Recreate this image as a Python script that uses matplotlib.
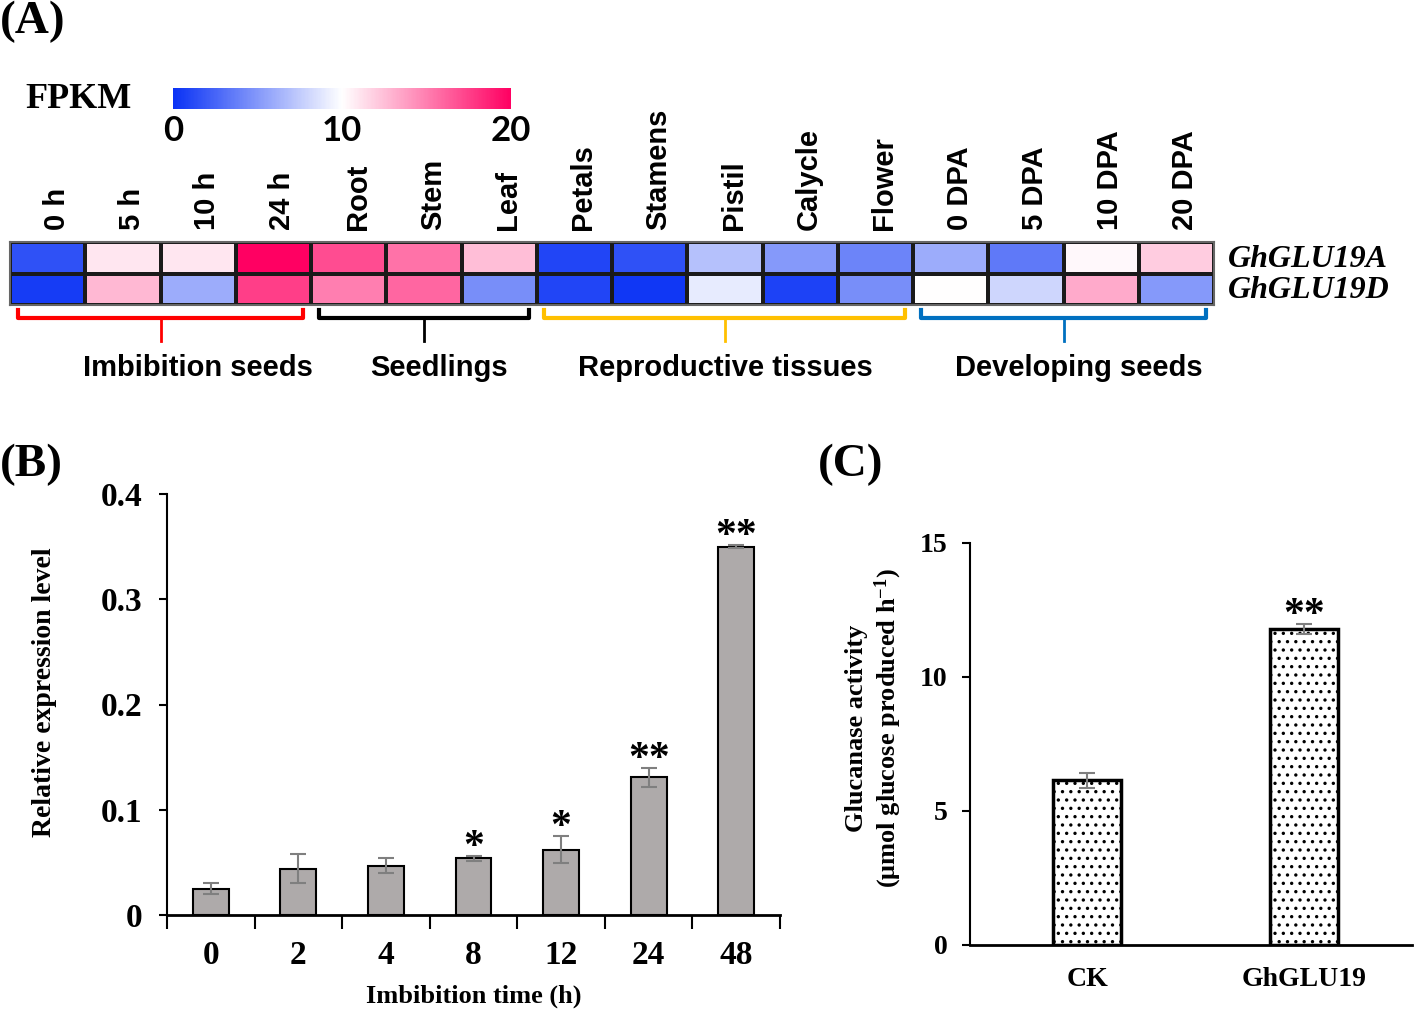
import numpy as np
import matplotlib
matplotlib.use("Agg")
import matplotlib.pyplot as plt
from matplotlib.colors import LinearSegmentedColormap

W, H = 1416, 1015

# (A) FPKM heatmap
samples = ["0 h", "5 h", "10 h", "24 h", "Root", "Stem", "Leaf", "Petals",
           "Stamens", "Pistil", "Calycle", "Flower", "0 DPA", "5 DPA",
           "10 DPA", "20 DPA"]
genes = ["GhGLU19A", "GhGLU19D"]
fpkm_a = [1.5, 11.0, 11.0, 20.0, 17.0, 15.5, 12.5, 1.0,
          1.5, 7.0, 5.0, 4.0, 6.0, 3.5, 10.3, 12.0]
fpkm_d = [0.5, 12.8, 6.0, 17.5, 15.0, 16.0, 4.5, 1.0,
          0.3, 9.0, 0.8, 4.5, 10.0, 8.0, 13.3, 5.0]
groups = ["Imbibition seeds", "Seedlings", "Reproductive tissues", "Developing seeds"]
group_start = [0, 4, 7, 12]
group_end = [3, 6, 11, 15]
group_colors = ["#FF0000", "#000000", "#FFC000", "#0070C0"]

# (B) qRT-PCR over imbibition
imb_time = ["0", "2", "4", "8", "12", "24", "48"]
rel_expr = [0.025, 0.044, 0.047, 0.054, 0.062, 0.131, 0.350]
rel_err = [0.005, 0.014, 0.0075, 0.0025, 0.013, 0.009, 0.0015]
rel_sig = ["", "", "", "*", "*", "**", "**"]

# (C) glucanase activity
lines = ["CK", "GhGLU19"]
activity = [6.15, 11.8]
activity_err = [0.28, 0.19]
activity_sig = ["", "**"]

SERIF = "Liberation Serif"
SANS = "Liberation Sans"
plt.rcParams["hatch.linewidth"] = 1.2
plt.rcParams["mathtext.fontset"] = "custom"
plt.rcParams["mathtext.rm"] = "Liberation Serif:bold"
plt.rcParams["mathtext.default"] = "rm"


def box(l, t, r, b):
    return [l / W, 1 - b / H, (r - l) / W, (b - t) / H]


fig = plt.figure(figsize=(W / 100, H / 100), dpi=100)

# ---------------- (A) ----------------
cmap = LinearSegmentedColormap.from_list("fpkm", ["#0A32F5", "#FFFFFF", "#FF0062"])
ax = fig.add_axes(box(10, 242, 1214, 305))
data = np.array([fpkm_a, fpkm_d])
mesh = ax.pcolormesh(data, cmap=cmap, vmin=0, vmax=20,
                     edgecolors="#1a1a1a", linewidth=1.5)
ax.set_xlim(0, len(samples))
ax.set_ylim(2, 0)
ax.set_xticks([])
ax.set_yticks([])
for s in ax.spines.values():
    s.set_color("#666666")
    s.set_linewidth(1.5)

for i, name in enumerate(samples):
    ax.text(i + 0.62, -0.38, name, rotation=90, ha="center", va="bottom",
            family=SANS, weight="bold", fontsize=21)
for j, g in enumerate(genes):
    ax.text(len(samples) + 0.18, j + 0.55, g, ha="left", va="center",
            family=SERIF, weight="bold", style="italic", fontsize=23,
            clip_on=False)

label_shift = [0.5, 0.2, 0.0, 0.2]
for name, s0, s1, c, dx in zip(groups, group_start, group_end, group_colors, label_shift):
    x0, x1 = s0 + 0.1, s1 + 1 - 0.1
    xm = (x0 + x1) / 2
    ax.plot([x0, x0, x1, x1], [2.15, 2.4, 2.4, 2.15], color=c, lw=3,
            clip_on=False, solid_joinstyle="round")
    ax.plot([xm, xm], [2.4, 3.15], color=c, lw=2, clip_on=False)
    ax.text(xm + dx, 4.0, name, ha="center", va="center", family=SANS,
            weight="bold", fontsize=21)

cax = fig.add_axes(box(173, 88, 511, 109))
cb = fig.colorbar(mesh, cax=cax, orientation="horizontal", ticks=[0, 10, 20])
cb.outline.set_visible(False)
cax.tick_params(length=0, pad=4)
for t in cax.get_xticklabels():
    t.set_family("Lato")
    t.set_weight("bold")
    t.set_fontsize(25)
fig.text(25 / W, 1 - 100 / H, "FPKM", ha="left", va="center", family=SERIF,
         weight="bold", fontsize=26)

# ---------------- (B) ----------------
axb = fig.add_axes(box(167, 494, 780, 915))
x = np.arange(len(imb_time))
axb.bar(x, rel_expr, width=0.41, color="#AEAAAA", edgecolor="black",
        linewidth=1.5, yerr=rel_err,
        error_kw=dict(ecolor="#7F7F7F", capsize=6, elinewidth=1.5, capthick=1.5))
for xi, v, e, s in zip(x, rel_expr, rel_err, rel_sig):
    if s:
        axb.annotate(s, (xi, v + e), xytext=(0, -8), textcoords="offset points",
                     ha="center", va="bottom", family=SERIF, weight="bold",
                     fontsize=30)
axb.set_xlim(-0.5, len(imb_time) - 0.5)
axb.set_ylim(0, 0.4)
axb.spines[["top", "right"]].set_visible(False)
axb.spines["left"].set_linewidth(1.5)
axb.spines["bottom"].set_linewidth(2)
axb.set_yticks([0, 0.1, 0.2, 0.3, 0.4])
axb.set_yticklabels(["0", "0.1", "0.2", "0.3", "0.4"])
axb.tick_params(axis="y", direction="out", length=6, width=1.5, pad=12)
axb.set_xticks(np.arange(-0.5, len(imb_time)), labels=[])
axb.set_xticks(x, labels=imb_time, minor=True)
axb.tick_params(axis="x", which="major", direction="out", length=10, width=1.5)
axb.tick_params(axis="x", which="minor", length=0, pad=18)
for t in axb.get_yticklabels() + axb.get_xticklabels(minor=True):
    t.set_family(SERIF)
    t.set_weight("bold")
    t.set_fontsize(24)
axb.set_ylabel("Relative expression level", family=SERIF, weight="bold", fontsize=20)
axb.yaxis.set_label_coords(-0.18, 0.53)
axb.set_xlabel("Imbibition time (h)", family=SERIF, weight="bold", fontsize=19)
axb.xaxis.set_label_coords(0.5, -0.165)

# ---------------- (C) ----------------
axc = fig.add_axes(box(970, 543, 1412, 945))
xc = np.arange(len(lines))
axc.bar(xc, activity, width=0.314, color="white", edgecolor="black",
        linewidth=2.5, hatch="..", yerr=activity_err,
        error_kw=dict(ecolor="#7F7F7F", capsize=6, elinewidth=1.5, capthick=1.5))
for xi, v, e, s in zip(xc, activity, activity_err, activity_sig):
    if s:
        axc.annotate(s, (xi, v + e), xytext=(0, -8), textcoords="offset points",
                     ha="center", va="bottom", family=SERIF, weight="bold",
                     fontsize=30)
axc.set_xlim(-0.54, 1.5)
axc.set_ylim(0, 15)
axc.spines[["top", "right"]].set_visible(False)
axc.spines["left"].set_linewidth(1.5)
axc.spines["bottom"].set_linewidth(2)
axc.set_yticks([0, 5, 10, 15])
axc.tick_params(axis="y", direction="out", length=6, width=1.5, pad=10)
axc.set_xticks(xc, labels=lines)
axc.tick_params(axis="x", length=0, pad=16)
for t in axc.get_yticklabels() + axc.get_xticklabels():
    t.set_family(SERIF)
    t.set_weight("bold")
    t.set_fontsize(20)
axc.set_ylabel("Glucanase activity\n(\u03bcmol glucose produced h$^{-1}$)",
               family=SERIF, weight="bold", fontsize=19, multialignment="center")
axc.yaxis.set_label_coords(-0.15, 0.54)

# panel tags
fig.text(0, 1 - 22 / H, "(A)", ha="left", va="center", family=SERIF, weight="bold", fontsize=34)
fig.text(0, 1 - 465 / H, "(B)", ha="left", va="center", family=SERIF, weight="bold", fontsize=34)
fig.text(818 / W, 1 - 465 / H, "(C)", ha="left", va="center", family=SERIF, weight="bold", fontsize=34)

fig.savefig("out.png", dpi=100)
